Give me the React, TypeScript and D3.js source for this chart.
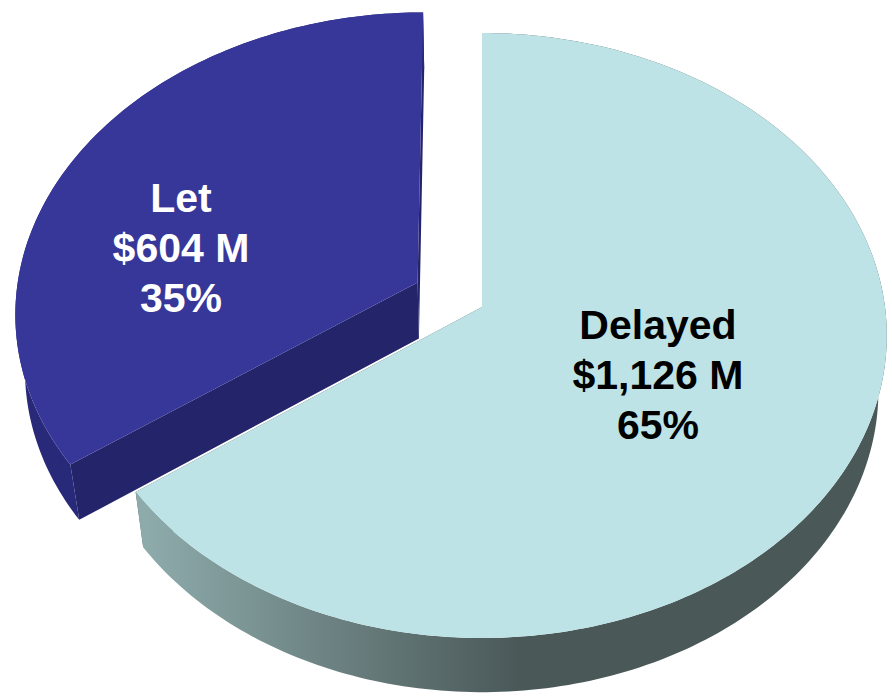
import * as React from 'react';
import * as d3 from 'd3';

const categories = ['Delayed', 'Let'];
const amounts = [1126, 604];
const amountLabels = ['$1,126 M', '$604 M'];
const percentLabels = ['65%', '35%'];

const width = 892;
const height = 697;

// perspective projection of the pie disc (u across, z toward viewer, h = 0 top / 1 bottom face)
const cx = 482;
const vy = 307;
const rx = 403;
const ka = 270.9;
const kc = -0.0942;
const kq = 0.021;
const kt = 63.6;

const explode = [0, 0.181];
const topColors = ['#bde3e6', '#37379a'];
const sideColors = ['#4a5858', '#24246b'];
const rimFills = ['url(#rim-delayed)', '#29297a'];
const textColors = ['#000000', '#ffffff'];
const labelPos: [number, number][] = [[658, 389], [181, 262]];

function proj(u: number, z: number, h = 0): [number, number] {
  const w = 1 + kc * z + kq * h;
  return [cx + (rx * u) / w, (ka * z + vy + kt * h) / w];
}

export default function App() {
  const arcs = d3.pie<number>().sort(null).value(d => d)(amounts);
  const line = d3.line();

  const slices = arcs.map((a, i) => {
    const mid = (a.startAngle + a.endAngle) / 2;
    const ou = explode[i] * Math.sin(mid);
    const oz = -explode[i] * Math.cos(mid);
    const pt = (t: number, r: number, h = 0) =>
      proj(ou + r * Math.sin(t), oz - r * Math.cos(t), h);
    const n = Math.max(8, Math.ceil(((a.endAngle - a.startAngle) * 180) / Math.PI));
    const ts = d3.range(n + 1).map(k => a.startAngle + ((a.endAngle - a.startAngle) * k) / n);

    const top = line([pt(0, 0), ...ts.map(t => pt(t, 1))])! + 'Z';
    const rim = line([
      ...ts.map(t => pt(t, 1)),
      ...ts.slice().reverse().map(t => pt(t, 1, 1)),
    ])! + 'Z';
    const faces = [a.startAngle, a.endAngle].map(t =>
      line([pt(0, 0), pt(t, 1), pt(t, 1, 1), pt(0, 0, 1)])! + 'Z'
    );
    return { i, top, rim, faces };
  });

  // draw the exploded (farther) slice first
  const order = [1, 0];

  return (
    <svg width={width} height={height} style={{ position: 'absolute', left: 0, top: 0 }}>
      <defs>
        <linearGradient id="rim-delayed" gradientUnits="userSpaceOnUse" x1={145} y1={0} x2={520} y2={0}>
          <stop offset="0%" stopColor="#8eabab" />
          <stop offset="100%" stopColor="#4a5858" />
        </linearGradient>
      </defs>
      {order.map(i => {
        const s = slices[i];
        return (
          <g key={categories[i]}>
            {s.faces.map((f, j) => (
              <path key={j} d={f} fill={sideColors[i]} />
            ))}
            <path d={s.rim} fill={rimFills[i]} />
            <path d={s.top} fill={topColors[i]} />
          </g>
        );
      })}
      {categories.map((c, i) => {
        const [lx, ly] = labelPos[i];
        const lines = [c, amountLabels[i], percentLabels[i]];
        return (
          <text
            key={c}
            textAnchor="middle"
            fontFamily="'Liberation Sans', Arial, sans-serif"
            fontWeight="bold"
            fontSize={41}
            fill={textColors[i]}
          >
            {lines.map((t, k) => (
              <tspan key={k} x={lx} y={ly + (k - 1) * 50}>{t}</tspan>
            ))}
          </text>
        );
      })}
    </svg>
  );
}
